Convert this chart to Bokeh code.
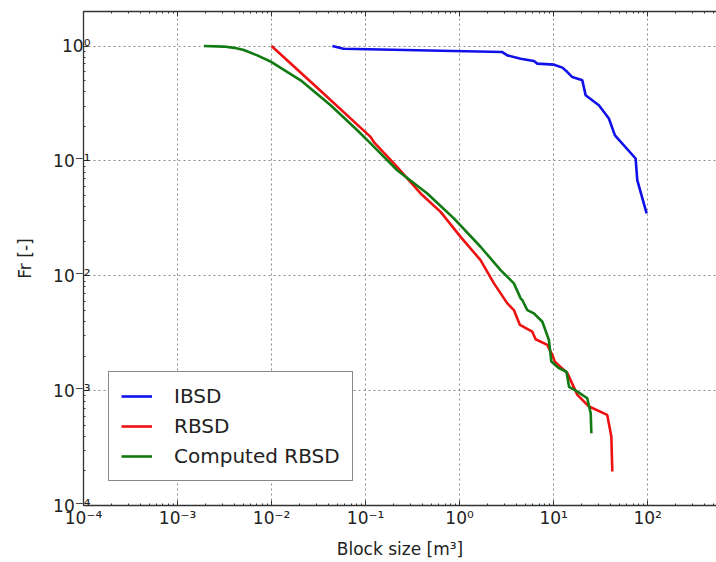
from bokeh.plotting import figure
from bokeh.models import LogAxis, FixedTicker, Range1d, Legend, LegendItem
from bokeh.embed import file_html
from bokeh.resources import INLINE

# Cumulative block size distributions: block volume [m^3] vs. fraction Fr [-]
ibsd_x = [0.0443, 0.0583, 2.85, 3.22, 4.46, 6.17, 6.71, 10.1, 12.4, 14.0,
          15.8, 20.2, 21.9, 30.3, 38.7, 44.9, 74.5, 77.6, 97.5]
ibsd_y = [1.0, 0.949, 0.887, 0.830, 0.777, 0.741, 0.703, 0.689, 0.649, 0.594,
          0.537, 0.503, 0.373, 0.305, 0.234, 0.167, 0.105, 0.068, 0.0349]

rbsd_x = [0.01, 0.03, 0.113, 0.1225, 0.208, 0.385, 0.628, 1.025, 1.67, 2.32,
          3.22, 3.78, 4.38, 5.93, 6.44, 8.57, 9.69, 10.3, 14.0, 17.9,
          23.8, 37.2, 41.1, 42.1]
rbsd_y = [1.0, 0.44, 0.162, 0.146, 0.0918, 0.0521, 0.0360, 0.0218, 0.0137, 0.00859,
          0.00575, 0.00503, 0.00373, 0.00326, 0.00280, 0.00250, 0.00204, 0.00179, 0.00142, 0.000918,
          0.000727, 0.000615, 0.000398, 0.000198]

comp_x = [0.00191, 0.00311, 0.00400, 0.00507, 0.00705, 0.01, 0.0204, 0.0425, 0.0817, 0.113,
          0.217, 0.453, 0.869, 1.67, 2.73, 3.78, 4.46, 4.64, 5.25, 6.17,
          7.59, 8.91, 9.46, 11.4, 13.7, 14.6, 17.9, 22.8, 24.8, 25.2]
comp_y = [1.0, 0.99, 0.965, 0.925, 0.830, 0.726, 0.503, 0.305, 0.185, 0.142,
          0.083, 0.0521, 0.0316, 0.0179, 0.0112, 0.00859, 0.00636, 0.00615, 0.00503, 0.00471,
          0.00398, 0.00276, 0.00179, 0.00157, 0.00146, 0.00108, 0.000980, 0.000859, 0.000636, 0.000426]

x_ticks = [1e-4, 1e-3, 1e-2, 1e-1, 1e0, 1e1, 1e2]
x_labels = ["10⁻⁴", "10⁻³", "10⁻²", "10⁻¹", "10⁰", "10¹", "10²"]
y_ticks = [1e-4, 1e-3, 1e-2, 1e-1, 1e0]
y_labels = ["10⁻⁴", "10⁻³", "10⁻²", "10⁻¹", "10⁰"]

x_end = 540.0
y_end = 2.0

FONT = "DejaVu Sans"
TEXT = "#222222"


def minor_of(majors):
    out = []
    for d in list(majors) + [majors[-1] * 10]:
        out.extend(d * k for k in range(2, 10))
    return out


xt = FixedTicker(ticks=x_ticks, minor_ticks=minor_of(x_ticks))
yt = FixedTicker(ticks=y_ticks, minor_ticks=minor_of(y_ticks))

p = figure(width=716, height=562, x_axis_type="log", y_axis_type="log",
           x_range=Range1d(1e-4, x_end), y_range=Range1d(1e-4, y_end),
           output_backend="svg", toolbar_location=None,
           min_border_left=83, min_border_right=0,
           min_border_top=11, min_border_bottom=57)
p.outline_line_color = None
p.background_fill_color = "white"
p.border_fill_color = "white"


def style_axis(ax, ticker, labels, ticks, show_labels=True):
    ax.ticker = ticker
    ax.axis_line_color = "#333333"
    ax.axis_line_width = 1.3
    ax.major_tick_in = 5
    ax.major_tick_out = 0
    ax.minor_tick_in = 2
    ax.minor_tick_out = 0
    ax.major_tick_line_color = "#333333"
    ax.minor_tick_line_color = "#333333"
    if show_labels:
        ax.major_label_overrides = {t: s for t, s in zip(ticks, labels)}
        ax.major_label_text_font = FONT
        ax.major_label_text_font_size = "17px"
        ax.major_label_text_color = TEXT
        ax.axis_label_text_font = FONT
        ax.axis_label_text_font_size = "17px"
        ax.axis_label_text_font_style = "normal"
        ax.axis_label_text_color = TEXT
    else:
        ax.major_label_text_font_size = "0px"
        ax.major_label_text_alpha = 0


xax = p.xaxis[0]
yax = p.yaxis[0]
style_axis(xax, xt, x_labels, x_ticks)
style_axis(yax, yt, y_labels, y_ticks)
xax.axis_label = "Block size [m³]"
yax.axis_label = "Fr [-]"
xax.major_label_standoff = 2
xax.axis_label_standoff = 8
yax.major_label_standoff = -7
yax.axis_label_standoff = 15

top = LogAxis()
style_axis(top, xt, x_labels, x_ticks, show_labels=False)
p.add_layout(top, "above")

for g, t in ((p.xgrid[0], xt), (p.ygrid[0], yt)):
    g.ticker = t
    g.grid_line_color = "#8c8c8c"
    g.grid_line_dash = "2 3"
    g.grid_line_width = 1

r1 = p.line(ibsd_x, ibsd_y, line_color="#1010e8", line_width=2.6)
r2 = p.line(rbsd_x, rbsd_y, line_color="#ee1111", line_width=2.6)
r3 = p.line(comp_x, comp_y, line_color="#127a12", line_width=2.6)

legend = Legend(items=[LegendItem(label="IBSD", renderers=[r1]),
                       LegendItem(label="RBSD", renderers=[r2]),
                       LegendItem(label="Computed RBSD", renderers=[r3])],
                location=(25, 24))
legend.label_text_font = FONT
legend.label_text_font_size = "20px"
legend.label_text_color = TEXT
legend.label_height = 24
legend.glyph_height = 24
legend.glyph_width = 31
legend.label_standoff = 22
legend.spacing = 6
legend.padding = 12
legend.margin = 0
legend.border_line_color = "#111111"
legend.border_line_width = 1.5
legend.background_fill_color = "white"
legend.background_fill_alpha = 1.0
p.add_layout(legend)

open("out.html", "w").write(file_html(p, INLINE))
